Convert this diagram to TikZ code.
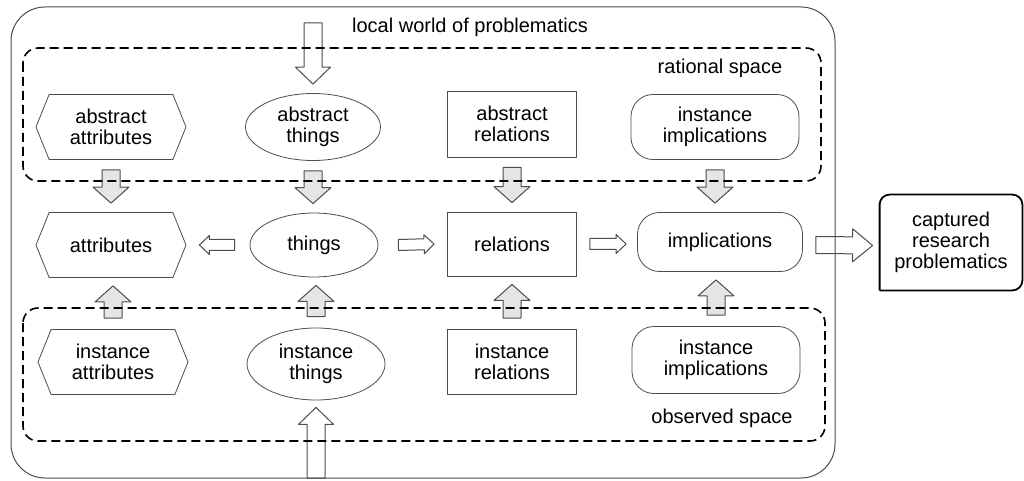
\documentclass[tikz,border=0pt]{standalone}
\usepackage{fontspec}
\setmainfont{Liberation Sans}
\usepackage{xcolor}
\usepackage{tikz}
\usetikzlibrary{shapes.geometric,shapes.symbols,calc}
\definecolor{arrgray}{gray}{0.9}
\definecolor{linegray}{gray}{0.3}

% block arrow: style, from, to, half shaft, half head, head length
\newcommand{\blockarr}[6]{%
  \coordinate (ba-s) at (#2);
  \coordinate (ba-e) at (#3);
  \coordinate (ba-h) at ($(ba-e)!#6!(ba-s)$);
  \draw[#1] ($(ba-s)!#4!90:(ba-e)$) -- ($(ba-h)!#4!90:(ba-e)$)
    -- ($(ba-h)!#5!90:(ba-e)$) -- (ba-e) -- ($(ba-h)!#5!-90:(ba-e)$)
    -- ($(ba-h)!#4!-90:(ba-e)$) -- ($(ba-s)!#4!-90:(ba-e)$) -- cycle;
}

\begin{document}
\begin{tikzpicture}[x=0.5pt,y=-0.5pt,line join=round,
  every node/.style={font=\fontsize{10}{10.5}\selectfont, align=center, text=black},
  hexbox/.style={draw=linegray, signal, signal to=west and east, signal pointer angle=136,
    minimum width=75pt, minimum height=32.5pt, inner sep=1pt},
  thingbox/.style={draw=linegray, ellipse, minimum width=67.5pt, minimum height=33.5pt, inner sep=0pt},
  relbox/.style={draw=linegray, rectangle, minimum width=64.5pt, minimum height=33pt},
  implbox/.style={draw=linegray, rectangle, rounded corners=11pt, minimum width=84pt, minimum height=32.5pt},
  spacebox/.style={draw=black, line width=0.8pt, dash pattern=on 4.5pt off 2.5pt, rounded corners=7.5pt},
  whitearr/.style={draw=linegray, fill=white, line width=0.5pt},
  grayarr/.style={draw=linegray, fill=arrgray, line width=0.5pt}]

\useasboundingbox (0,0) rectangle (1024,481);

% rational row
\node[hexbox] (aattr) at (111,127) {abstract\\attributes};
\node[thingbox] (athing) at (313,127) {abstract\\things};
\node[relbox] (arel) at (512,124) {abstract\\relations};
\node[implbox] (aimpl) at (715,127) {instance\\implications};
% middle row
\node[hexbox] (attr) at (111,245) {attributes};
\node[thingbox, minimum width=64pt, minimum height=32pt] (thing) at (314,245) {things};
\node[relbox, minimum height=32pt] (rel) at (512,244) {relations};
\node[implbox, minimum width=82.5pt, minimum height=29.5pt] (impl) at (720,242) {implications};
% observed row
\node[hexbox] (iattr) at (113,362) {instance\\attributes};
\node[thingbox, minimum width=69pt, minimum height=36pt] (ithing) at (316,364) {instance\\things};
\node[relbox, minimum height=32.5pt] (irel) at (512,362) {instance\\relations};
\node[implbox, minimum width=84pt, minimum height=33.5pt] (iimpl) at (716,360) {instance\\implications};

\node[minimum width=71pt, minimum height=47.5pt] (capt) at (951,242.5) {captured\\research\\problematics};
\draw[line width=0.9pt, rounded corners=5pt] (capt.south west) -- (capt.north west)
  -- (capt.north east) -- (capt.south east) -- (capt.south west);

% arrows
\coordinate (topin) at (313,23);
\coordinate (botin) at (316,478);
\blockarr{whitearr}{topin}{$(athing.north)+(0,-9)$}{4.5pt}{8.75pt}{8.5pt}
\blockarr{whitearr}{botin}{$(ithing.south)+(0,7)$}{4.5pt}{8.75pt}{8.5pt}
\foreach \a/\b in {aattr/attr, athing/thing, arel/rel, aimpl/impl}
  \blockarr{grayarr}{$(\a.south)+(0,10)$}{$(\a.south |- \b.north)+(0,-9)$}{4.5pt}{9pt}{8pt};
\foreach \a/\b in {attr/iattr, thing/ithing, rel/irel, impl/iimpl}
  \blockarr{grayarr}{$(\b.north)+(0,-11)$}{$(\b.north |- \a.south)+(0,8)$}{4.5pt}{9pt}{8pt};
\blockarr{whitearr}{$(thing.west)+(-15,0)$}{$(attr.east)+(13,0)$}{2.75pt}{4.75pt}{5pt}
\blockarr{whitearr}{$(thing.east)+(20,0)$}{$(rel.west)+(-13,0)$}{2.75pt}{4.75pt}{5pt}
\blockarr{whitearr}{$(rel.east)+(13,0)$}{$(impl.west)+(-11,2)$}{2.75pt}{4.75pt}{5pt}
\blockarr{whitearr}{$(impl.east)+(13,3)$}{$(capt.west)+(-7,3)$}{4.25pt}{8.25pt}{10pt}

% spaces
\draw[line width=0.5pt, draw=linegray, rounded corners=17pt] (11,7) rectangle (835,478);
\draw[spacebox] (23,48) rectangle (821,181);
\draw[spacebox] (23,308) rectangle (825,441);
\node (world) at (470,27) {local world of problematics};
\node (ratsp) at (720,68) {rational space};
\node (obssp) at (722,418) {observed space};
\end{tikzpicture}
\end{document}
